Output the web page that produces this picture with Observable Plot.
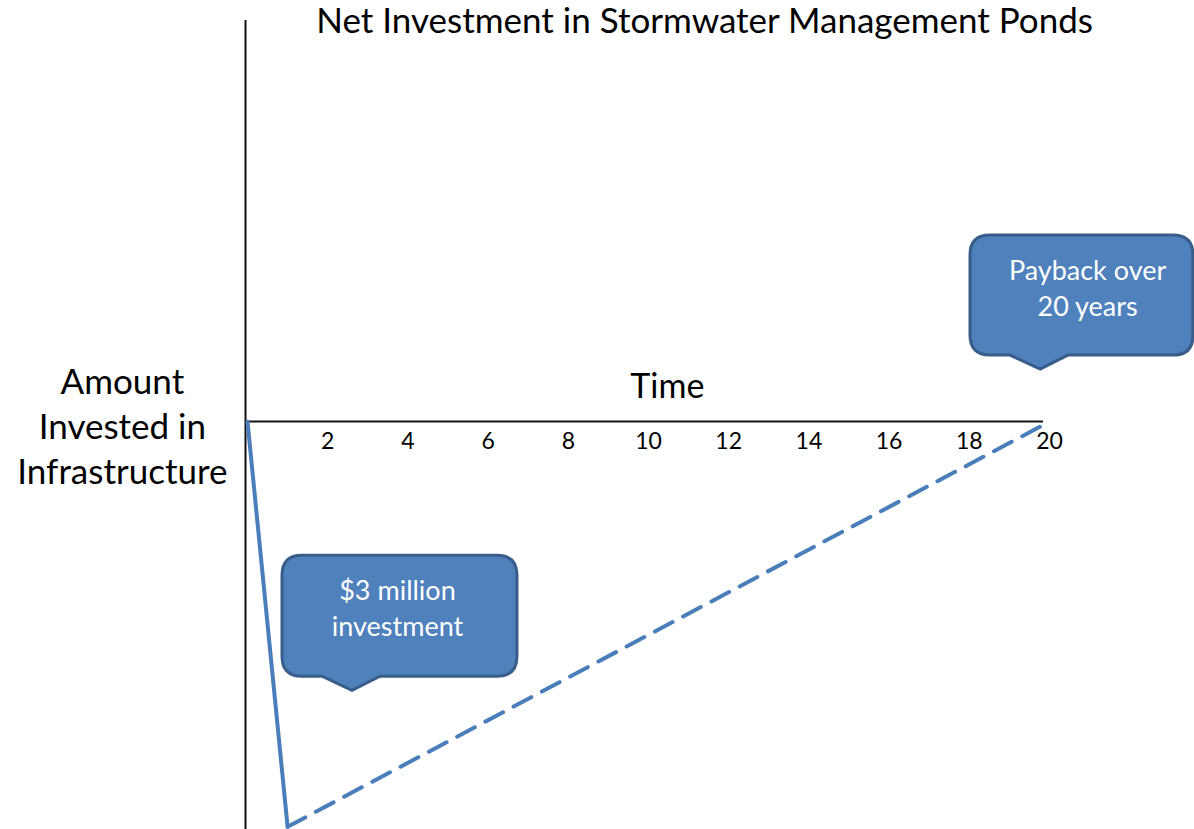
<!DOCTYPE html>
<html><head><meta charset="utf-8">
<script src="https://cdn.jsdelivr.net/npm/d3@7"></script>
<script src="https://cdn.jsdelivr.net/npm/@observablehq/plot@0.6"></script>
<style>body{margin:0;background:#fff}#chart svg{display:block}</style>
</head><body><div id="chart"></div>
<script>
// Investment path (years, $ millions)
const investYears = [0, 1];
const investValues = [0, -3];
const paybackYears = [1, 20];
const paybackValues = [-3, 0];
const tickYears = [2, 4, 6, 8, 10, 12, 14, 16, 18, 20];

const titleText = "Net Investment in Stormwater Management Ponds";
const xLabel = "Time";
const yLabel = "Amount\nInvested in\nInfrastructure";

// Callout annotations (anchored in data units)
const calloutText = ["$3 million\ninvestment", "Payback over\n20 years"];
const calloutX1 = [0.873, 18.03];
const calloutX2 = [6.733, 23.59];
const calloutY1 = [-0.993, 1.378];
const calloutY2 = [-1.889, 0.489];
const calloutTipX = [2.618, 19.78];
const calloutTipY = [-1.993, 0.385];
const calloutB1 = [1.87, 19.03];
const calloutB2 = [3.317, 20.47];
const calloutTextX = [3.74, 20.95];
const calloutTextY = [-1.37, 1.0];

const FONT = "Lato, 'Open Sans', sans-serif";
const BLUE = "#4A7EBB";

const invest = investYears.map((d, i) => ({year: d, value: investValues[i]}));
const payback = paybackYears.map((d, i) => ({year: d, value: paybackValues[i]}));
const callouts = calloutText.map((t, i) => ({
  text: t, x1: calloutX1[i], x2: calloutX2[i], y1: calloutY1[i], y2: calloutY2[i],
  tx: calloutTipX[i], ty: calloutTipY[i], b1: calloutB1[i], b2: calloutB2[i],
  cx: calloutTextX[i], cy: calloutTextY[i]
}));

function calloutShapes(index, scales) {
  const sx = scales.x, sy = scales.y;
  const g = d3.create("svg:g");
  for (const c of callouts) {
    const X1 = sx(c.x1), X2 = sx(c.x2), Y1 = sy(c.y1), Y2 = sy(c.y2);
    const TX = sx(c.tx), TY = sy(c.ty), B1 = sx(c.b1), B2 = sx(c.b2);
    const r = 20;
    const d = `M${X1 + r},${Y1}H${X2 - r}Q${X2},${Y1} ${X2},${Y1 + r}V${Y2 - r}Q${X2},${Y2} ${X2 - r},${Y2}` +
      `H${B2}L${TX},${TY}L${B1},${Y2}H${X1 + r}Q${X1},${Y2} ${X1},${Y2 - r}V${Y1 + r}Q${X1},${Y1} ${X1 + r},${Y1}Z`;
    g.append("path").attr("d", d).attr("fill", "#4F81BD").attr("stroke", "#385D8A").attr("stroke-width", 3);
  }
  return g.node();
}

const chart = Plot.plot({
  width: 1194,
  height: 829,
  marginLeft: 247,
  marginRight: 145,
  marginTop: 20,
  marginBottom: 0,
  x: {domain: [0, 20], axis: null},
  y: {domain: [-3.02, 2.97], axis: null},
  style: {fontFamily: FONT, background: "#fff", overflow: "visible"},
  marks: [
    Plot.ruleX([0], {y1: -3.02, y2: 2.97, stroke: "#111", strokeWidth: 2, dx: -2}),
    Plot.ruleY([0], {x1: 0, x2: 19.9, stroke: "#111", strokeWidth: 2, dx: -2}),
    Plot.text(tickYears, {x: d => d, y: 0, dy: 20, text: d => String(d), fontSize: 23, fill: "#000"}),
    Plot.line(invest, {x: "year", y: "value", stroke: BLUE, strokeWidth: 4}),
    Plot.line(payback, {x: "year", y: "value", stroke: BLUE, strokeWidth: 4, strokeDasharray: "20,12"}),
    calloutShapes,
    Plot.text(callouts, {x: "cx", y: "cy", text: "text", fill: "#fff", fontSize: 27, lineHeight: 1.33}),
    Plot.text([titleText], {x: 11.4, y: 2.963, text: d => d, fontSize: 35, fill: "#000"}),
    Plot.text([xLabel], {x: 10.47, y: 0.259, text: d => d, fontSize: 34, fill: "#000"}),
    Plot.text([yLabel], {x: -3.12, y: -0.022, text: d => d, fontSize: 35, fill: "#000", lineHeight: 1.29})
  ]
});
document.getElementById("chart").appendChild(chart);
</script>
</body></html>
